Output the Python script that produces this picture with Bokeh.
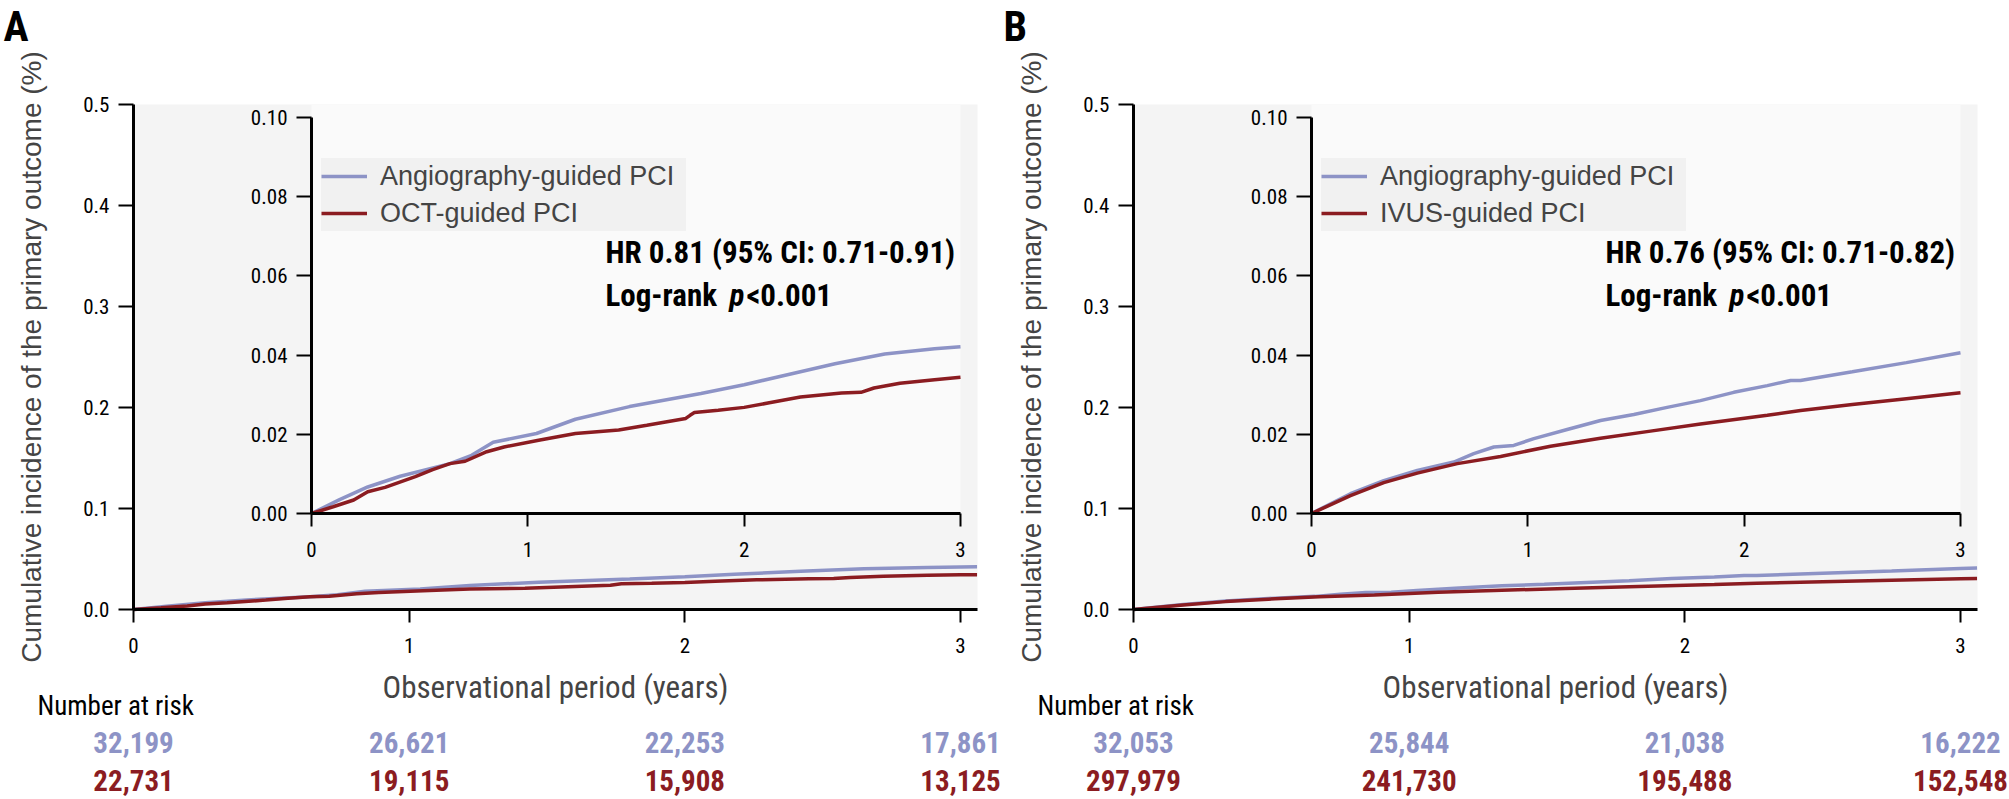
import numpy as np
from bokeh.plotting import figure
from bokeh.models import Range1d, LinearAxis, FixedTicker, Legend, LegendItem, Label
from bokeh.layouts import row
from bokeh.embed import file_html
from bokeh.resources import INLINE

# ---------------- data ----------------
X_TICKS = [0, 1, 2, 3]
MAIN_Y_TICKS = [0.0, 0.1, 0.2, 0.3, 0.4, 0.5]
MAIN_Y_LABELS = ["0.0", "0.1", "0.2", "0.3", "0.4", "0.5"]
INSET_Y_TICKS = [0.0, 0.02, 0.04, 0.06, 0.08, 0.10]
INSET_Y_LABELS = ["0.00", "0.02", "0.04", "0.06", "0.08", "0.10"]

A_ANGIO_T = [0, 0.13, 0.26, 0.41, 0.64, 0.74, 0.84, 1.04, 1.22, 1.47, 1.80, 2.00, 2.18, 2.42, 2.65, 2.88, 3.00, 3.06]
A_ANGIO_Y = [0, 0.0035, 0.0067, 0.0094, 0.0126, 0.0147, 0.0180, 0.0202, 0.0238, 0.0270, 0.0303, 0.0325, 0.0348, 0.0378, 0.0403, 0.0416, 0.0421, 0.0423]
A_OCT_T = [0, 0.10, 0.195, 0.26, 0.34, 0.48, 0.56, 0.64, 0.71, 0.81, 0.89, 1.05, 1.22, 1.42, 1.55, 1.73, 1.75, 1.77, 1.88, 2.00, 2.11, 2.26, 2.45, 2.54, 2.60, 2.72, 2.88, 3.00, 3.06]
A_OCT_Y = [0, 0.0017, 0.0034, 0.0055, 0.0066, 0.0093, 0.0111, 0.0126, 0.0132, 0.0156, 0.0168, 0.0185, 0.0202, 0.0211, 0.0223, 0.0240, 0.0248, 0.0255, 0.0261, 0.0268, 0.0279, 0.0294, 0.0304, 0.0306, 0.0317, 0.0329, 0.0338, 0.0344, 0.0345]

B_ANGIO_T = [0, 0.18, 0.334, 0.489, 0.658, 0.75, 0.843, 0.935, 1.028, 1.182, 1.336, 1.49, 1.644, 1.798, 1.952, 2.107, 2.215, 2.26, 2.50, 2.75, 3.00, 3.06]
B_ANGIO_Y = [0, 0.0050, 0.0083, 0.0109, 0.0130, 0.0151, 0.0168, 0.0172, 0.0189, 0.0212, 0.0235, 0.0250, 0.0268, 0.0285, 0.0306, 0.0323, 0.0336, 0.0336, 0.0358, 0.0381, 0.0406, 0.0410]
B_IVUS_T = [0, 0.18, 0.334, 0.489, 0.674, 0.874, 1.105, 1.336, 1.567, 1.798, 2.107, 2.261, 2.50, 2.75, 3.00, 3.06]
B_IVUS_Y = [0, 0.0045, 0.0078, 0.0102, 0.0126, 0.0144, 0.0170, 0.0190, 0.0208, 0.0226, 0.0248, 0.0260, 0.0275, 0.0290, 0.0305, 0.0307]

A_RISK_ANGIO = ["32,199", "26,621", "22,253", "17,861"]
A_RISK_OCT = ["22,731", "19,115", "15,908", "13,125"]
B_RISK_ANGIO = ["32,053", "25,844", "21,038", "16,222"]
B_RISK_IVUS = ["297,979", "241,730", "195,488", "152,548"]

ANGIO_NAME = "Angiography-guided PCI"
A_NAME = "OCT-guided PCI"
B_NAME = "IVUS-guided PCI"
A_HR = "HR 0.81 (95% CI: 0.71-0.91)"
B_HR = "HR 0.76 (95% CI: 0.71-0.82)"

# ---------------- style / layout ----------------
ANGIO_COLOR = "#8d93c6"
GUIDE_COLOR = "#8b1c21"
SANS = "Liberation Sans"
COND = "Roboto Condensed"
H = 799
X0, Y0 = 133, 609            # main x=0 / y=0 in pixels
SX, SY = 275.67, 1010.0      # main pixels per unit
IX0, IY0 = 311, 513          # inset x=0 / y=0 in pixels
ISX, ISY = 216.33, 3960.0    # inset pixels per unit
RIGHT_PX, TOP_PX = 977, 104  # main plot area right / top


def fx(px):
    return (px - X0) / SX


def fy(py):
    return (Y0 - py) / SY


def style_axis(ax, tick_out, standoff):
    ax.axis_line_width = 3
    ax.axis_line_color = "black"
    ax.major_tick_line_width = 2
    ax.major_tick_in = 0
    ax.major_tick_out = tick_out
    ax.minor_tick_line_color = None
    ax.major_label_text_font = COND
    ax.major_label_text_font_size = "21px"
    ax.major_label_text_color = "black"
    ax.major_label_standoff = standoff


def make_panel(letter, t1, y1, t2, y2, name2, hr, risk1, risk2, width):
    p = figure(width=width, height=H,
               x_range=Range1d(-X0 / SX, (width - X0) / SX),
               y_range=Range1d(-(H - Y0) / SY, Y0 / SY),
               x_axis_location=None, y_axis_location=None,
               output_backend="svg", toolbar_location=None,
               min_border=0, background_fill_color="white", border_fill_color="white",
               outline_line_color=None)
    p.grid.visible = False
    p.extra_x_ranges = {"ix": Range1d(-IX0 / ISX, (width - IX0) / ISX)}
    p.extra_y_ranges = {"iy": Range1d(-(H - IY0) / ISY, IY0 / ISY)}

    # plot backgrounds
    p.quad(left=[0], right=[fx(RIGHT_PX)], bottom=[0], top=[MAIN_Y_TICKS[-1]],
           fill_color="#f4f4f4", line_color=None)
    p.quad(left=[0], right=[X_TICKS[-1]], bottom=[0], top=[(IY0 - TOP_PX) / ISY],
           x_range_name="ix", y_range_name="iy", fill_color="#fafafa", line_color=None)

    # main curves
    p.line(t1, y1, line_color=ANGIO_COLOR, line_width=3.5)
    p.line(t2, y2, line_color=GUIDE_COLOR, line_width=3.5)

    # inset curves (up to 3 years)
    t1a, y1a = np.array(t1), np.array(y1)
    t2a, y2a = np.array(t2), np.array(y2)
    m1, m2 = t1a <= 3, t2a <= 3
    r1 = p.line(t1a[m1], y1a[m1], line_color=ANGIO_COLOR, line_width=3.5,
                x_range_name="ix", y_range_name="iy")
    r2 = p.line(t2a[m2], y2a[m2], line_color=GUIDE_COLOR, line_width=3.5,
                x_range_name="ix", y_range_name="iy")

    # main axes
    ya = LinearAxis(fixed_location=0, ticker=FixedTicker(ticks=MAIN_Y_TICKS),
                    bounds=(0, MAIN_Y_TICKS[-1]))
    style_axis(ya, 15, 9)
    ya.major_label_overrides = {t: s for t, s in zip(MAIN_Y_TICKS, MAIN_Y_LABELS)}
    ya.axis_label = "Cumulative incidence of the primary outcome (%)"
    ya.axis_label_text_font = SANS
    ya.axis_label_text_font_size = "28px"
    ya.axis_label_text_font_style = "normal"
    ya.axis_label_standoff = 33
    p.add_layout(ya, "left")

    xa = LinearAxis(fixed_location=0, ticker=FixedTicker(ticks=X_TICKS),
                    bounds=(0, fx(RIGHT_PX)))
    style_axis(xa, 13, 15)
    xa.axis_label = "Observational period (years)"
    xa.axis_label_text_font = COND
    xa.axis_label_text_font_size = "31px"
    xa.axis_label_text_font_style = "normal"
    xa.axis_label_standoff = 13
    p.add_layout(xa, "below")

    # inset axes
    iya = LinearAxis(x_range_name="ix", y_range_name="iy", fixed_location=0,
                     ticker=FixedTicker(ticks=INSET_Y_TICKS), bounds=(0, INSET_Y_TICKS[-1]))
    style_axis(iya, 15, 9)
    iya.major_label_overrides = {t: s for t, s in zip(INSET_Y_TICKS, INSET_Y_LABELS)}
    p.add_layout(iya, "left")
    ixa = LinearAxis(x_range_name="ix", y_range_name="iy", fixed_location=0,
                     ticker=FixedTicker(ticks=X_TICKS), bounds=(0, X_TICKS[-1]))
    style_axis(ixa, 13, 15)
    p.add_layout(ixa, "below")

    legend = Legend(items=[LegendItem(label=ANGIO_NAME, renderers=[r1]),
                           LegendItem(label=name2, renderers=[r2])],
                    location=(321, H - 231), padding=4, spacing=1, margin=0,
                    glyph_width=46, glyph_height=36, label_height=36, label_width=306,
                    label_standoff=13, label_text_font=SANS, label_text_font_size="27px",
                    background_fill_color="#f1f1f1", background_fill_alpha=1.0,
                    border_line_color=None)
    p.add_layout(legend)

    # HR annotation
    bold = dict(text_font=COND, text_font_size="31px", text_font_style="bold",
                text_color="black", text_baseline="middle", text_align="left")
    p.add_layout(Label(x=fx(605), y=fy(252), text=hr, **bold))
    p.add_layout(Label(x=fx(605), y=fy(295), text="Log-rank", **bold))
    bi = dict(bold)
    bi["text_font_style"] = "bold italic"
    p.add_layout(Label(x=fx(729), y=fy(295), text="p", **bi))
    p.add_layout(Label(x=fx(746), y=fy(295), text="<0.001", **bold))

    # panel letter
    p.add_layout(Label(x=fx(3), y=fy(26), text=letter, text_font=COND, text_font_size="42px",
                       text_font_style="bold", text_align="left", text_baseline="alphabetic",
                       text_color="black"))

    # number at risk
    p.add_layout(Label(x=fx(37), y=fy(705), text="Number at risk", text_font=COND,
                       text_font_size="27px", text_align="left", text_baseline="middle",
                       text_color="black"))
    for xv, s1, s2 in zip(X_TICKS, risk1, risk2):
        p.add_layout(Label(x=xv, y=fy(742), text=s1, text_font=COND, text_font_size="29px",
                           text_font_style="bold", text_align="center", text_baseline="middle",
                           text_color=ANGIO_COLOR))
        p.add_layout(Label(x=xv, y=fy(780), text=s2, text_font=COND, text_font_size="29px",
                           text_font_style="bold", text_align="center", text_baseline="middle",
                           text_color=GUIDE_COLOR))
    return p


pa = make_panel("A", A_ANGIO_T, A_ANGIO_Y, A_OCT_T, A_OCT_Y, A_NAME, A_HR,
                A_RISK_ANGIO, A_RISK_OCT, 1000)
pb = make_panel("B", B_ANGIO_T, B_ANGIO_Y, B_IVUS_T, B_IVUS_Y, B_NAME, B_HR,
                B_RISK_ANGIO, B_RISK_IVUS, 1009)

layout = row(pa, pb)
open("out.html", "w").write(file_html(layout, INLINE))
